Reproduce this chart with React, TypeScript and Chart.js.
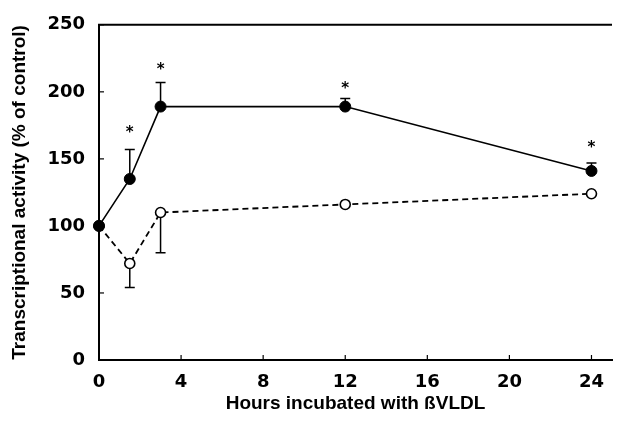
import React, { useEffect, useRef } from "react";
import { Chart, registerables } from "chart.js";

Chart.register(...registerables);

const hoursTreated = [0, 1.5, 3, 12, 24];
const treatedValues = [100, 135, 189, 189, 141];
const treatedErrUpper = [0, 157, 207, 195, 147];

const hoursControl = [0, 1.5, 3, 12, 24];
const controlValues = [100, 72, 110, 116, 124];
const controlErrLower = [0, 54, 80, 0, 0];

const asteriskX = [1.5, 3, 12, 24];
const asteriskY = [169, 216, 202, 158];

const xTicks = [0, 4, 8, 12, 16, 20, 24];
const yTicks = [0, 50, 100, 150, 200, 250];

const FONT = "'DejaVu Sans', sans-serif";
const TFONT = "'Liberation Sans', Arial, sans-serif";

const decorPlugin = {
  id: "decor",
  beforeDatasetsDraw(chart: any) {
    const ctx = chart.ctx;
    const xs = chart.scales.x;
    const ys = chart.scales.y;
    const ca = chart.chartArea;
    ctx.save();
    ctx.strokeStyle = "#000";
    ctx.beginPath();
    ctx.moveTo(ca.left - 1, ca.top);
    ctx.lineTo(ca.right, ca.top);
    ctx.lineWidth = 2;
    ctx.stroke();
    ctx.lineWidth = 1.2;
    xTicks.forEach((v) => {
      const px = xs.getPixelForValue(v);
      ctx.beginPath();
      ctx.moveTo(px, ca.bottom);
      ctx.lineTo(px, ca.bottom - 5);
      ctx.stroke();
    });
    yTicks.forEach((v) => {
      const py = ys.getPixelForValue(v);
      ctx.beginPath();
      ctx.moveTo(ca.left, py);
      ctx.lineTo(ca.left + 5, py);
      ctx.stroke();
    });
    ctx.lineWidth = 1.5;
    const drawErr = (x: number, v: number, e: number) => {
      if (!e) return;
      const px = xs.getPixelForValue(x);
      const p0 = ys.getPixelForValue(v);
      const p1 = ys.getPixelForValue(e);
      ctx.beginPath();
      ctx.moveTo(px, p0);
      ctx.lineTo(px, p1);
      ctx.moveTo(px - 5, p1);
      ctx.lineTo(px + 5, p1);
      ctx.stroke();
    };
    hoursTreated.forEach((x, i) => drawErr(x, treatedValues[i], treatedErrUpper[i]));
    hoursControl.forEach((x, i) => drawErr(x, controlValues[i], controlErrLower[i]));
    ctx.restore();
  },
  afterDatasetsDraw(chart: any) {
    const ctx = chart.ctx;
    const xs = chart.scales.x;
    const ys = chart.scales.y;
    ctx.save();
    ctx.fillStyle = "#000";
    ctx.font = `bold 15px ${FONT}`;
    ctx.textAlign = "center";
    ctx.textBaseline = "middle";
    asteriskX.forEach((x, i) => {
      ctx.fillText("*", xs.getPixelForValue(x), ys.getPixelForValue(asteriskY[i]));
    });
    ctx.restore();
  },
};

export default function App() {
  const ref = useRef<HTMLCanvasElement>(null);
  useEffect(() => {
    if (!ref.current) return;
    const chart = new Chart(ref.current, {
      type: "line",
      data: {
        datasets: [
          {
            label: "treated",
            data: hoursTreated.map((x, i) => ({ x, y: treatedValues[i] })),
            borderColor: "#000",
            borderWidth: 1.6,
            pointBackgroundColor: "#000",
            pointBorderColor: "#000",
            pointBorderWidth: 1,
            pointRadius: 5.5,
            fill: false,
            tension: 0,
            clip: false,
          },
          {
            label: "control",
            data: hoursControl.map((x, i) => ({ x, y: controlValues[i] })),
            borderColor: "#000",
            borderWidth: 1.8,
            borderDash: [6, 4],
            pointBackgroundColor: "#fff",
            pointBorderColor: "#000",
            pointBorderWidth: 1.6,
            pointRadius: 5,
            fill: false,
            tension: 0,
            clip: false,
          },
        ],
      },
      options: {
        responsive: false,
        animation: false,
        layout: { padding: { left: 0, top: 19, right: 15, bottom: 0 } },
        plugins: { legend: { display: false }, tooltip: { enabled: false } },
        scales: {
          x: {
            type: "linear",
            min: 0,
            max: 25,
            afterBuildTicks: (s: any) => {
              s.ticks = xTicks.map((v) => ({ value: v }));
            },
            afterFit: (s: any) => {
              s.height = 62;
            },
            grid: { display: false, drawTicks: false },
            border: { display: true, color: "#000", width: 2 },
            ticks: {
              color: "#000",
              padding: 12,
              font: { family: FONT, size: 18, weight: "bold" },
            },
            title: {
              display: true,
              text: "Hours incubated with ßVLDL",
              color: "#000",
              font: { family: TFONT, size: 19, weight: "bold" },
              padding: { top: 0, bottom: 7 },
            },
          },
          y: {
            type: "linear",
            min: 0,
            max: 250,
            afterBuildTicks: (s: any) => {
              s.ticks = yTicks.map((v) => ({ value: v }));
            },
            afterFit: (s: any) => {
              s.width = 99;
            },
            grid: { display: false, drawTicks: false },
            border: { display: true, color: "#000", width: 2 },
            ticks: {
              color: "#000",
              padding: 14,
              font: { family: FONT, size: 18, weight: "bold" },
            },
            title: {
              display: true,
              text: "Transcriptional activity (% of control)",
              color: "#000",
              font: { family: TFONT, size: 19, weight: "bold" },
              padding: { top: 8, bottom: 0 },
            },
          },
        },
      },
      plugins: [decorPlugin],
    } as any);
    return () => chart.destroy();
  }, []);
  return (
    <div style={{ position: "fixed", left: 0, top: 0, width: 627, height: 422, background: "#fff" }}>
      <canvas ref={ref} width={627} height={422} />
    </div>
  );
}
